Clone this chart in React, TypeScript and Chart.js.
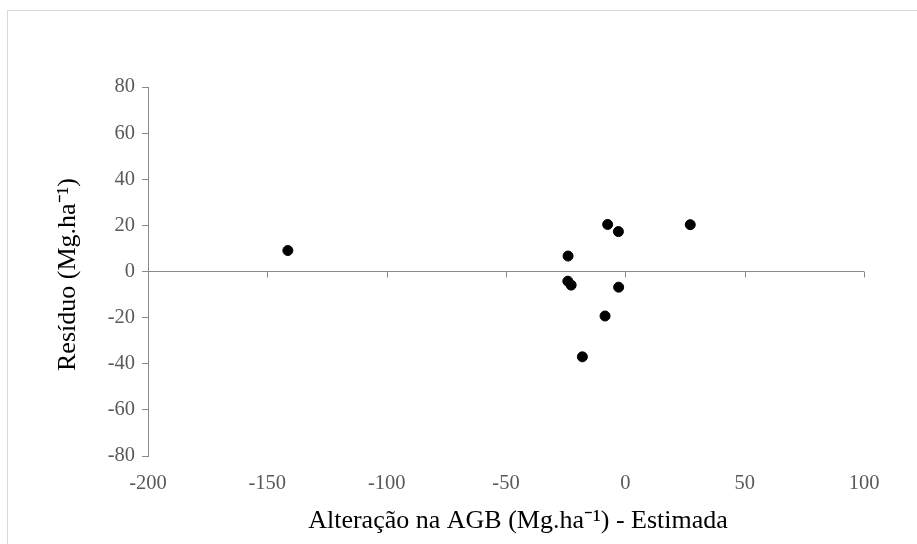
import React, { useEffect, useRef } from "react";
import { Chart, registerables } from "chart.js";

Chart.register(...registerables);

const xValues = [-141.4, -24.0, -24.1, -22.7, -18.0, -8.5, -7.4, -2.9, -2.8, 27.2];
const yValues = [9.1, 6.7, -4.2, -5.9, -37.0, -19.3, 20.4, 17.3, -6.8, 20.3];
const xTitle = "Alteração na AGB (Mg.ha\u207B\u00B9) - Estimada";
const yTitle = "Resíduo (Mg.ha\u207B\u00B9)";
const xMin = -200, xMax = 100, xStep = 50;
const yMin = -80, yMax = 80, yStep = 20;

const AXIS = "#898989";
const LABEL = "#595959";
const FONT = "'Liberation Serif', 'Times New Roman', serif";

const zeroTicks = {
  id: "zeroTicks",
  afterDatasetsDraw(chart: any) {
    const xs = chart.scales.x;
    const ys = chart.scales.y;
    const y0 = ys.getPixelForValue(0);
    const ctx = chart.ctx;
    ctx.save();
    ctx.strokeStyle = AXIS;
    ctx.lineWidth = 1;
    xs.ticks.forEach((t: any) => {
      const px = Math.round(xs.getPixelForValue(t.value)) + 0.5;
      ctx.beginPath();
      ctx.moveTo(px, y0);
      ctx.lineTo(px, y0 + 6);
      ctx.stroke();
    });
    ctx.restore();
  },
};

const axisTitles = {
  id: "axisTitles",
  afterDraw(chart: any) {
    const ca = chart.chartArea;
    const ctx = chart.ctx;
    ctx.save();
    ctx.fillStyle = "#000000";
    ctx.font = `26px ${FONT}`;
    ctx.textAlign = "center";
    ctx.textBaseline = "middle";
    ctx.fillText(xTitle, (ca.left + ca.right) / 2 + 12, chart.height - 23);
    ctx.translate(68, (ca.top + ca.bottom) / 2 + 3);
    ctx.rotate(-Math.PI / 2);
    ctx.fillText(yTitle, 0, 0);
    ctx.restore();
  },
};

export default function App() {
  const ref = useRef<HTMLCanvasElement>(null);
  useEffect(() => {
    document.body.style.margin = "0";
    document.body.style.overflow = "hidden";
    const data = xValues.map((x, i) => ({ x, y: yValues[i] }));
    const chart = new Chart(ref.current!, {
      type: "scatter",
      data: {
        datasets: [
          {
            data,
            backgroundColor: "#000000",
            borderColor: "#000000",
            pointRadius: 5,
            pointHoverRadius: 5,
          },
        ],
      },
      options: {
        responsive: false,
        animation: false,
        layout: { padding: { top: 87, right: 53, left: 0, bottom: 0 } },
        plugins: { legend: { display: false }, tooltip: { enabled: false } },
        scales: {
          x: {
            type: "linear",
            min: xMin,
            max: xMax,
            ticks: {
              stepSize: xStep,
              color: LABEL,
              font: { family: FONT, size: 20.5 },
              padding: 15,
              maxRotation: 0,
            },
            grid: { display: false, drawTicks: false },
            border: { display: false },
            title: { display: false },
            afterFit(scale: any) {
              scale.height = 88;
            },
          },
          y: {
            type: "linear",
            min: yMin,
            max: yMax,
            ticks: {
              stepSize: yStep,
              color: LABEL,
              font: { family: FONT, size: 20.5 },
              padding: 7,
            },
            grid: {
              color: (c: any) => (c.tick && c.tick.value === 0 ? AXIS : "rgba(0,0,0,0)"),
              tickColor: AXIS,
              tickLength: 6,
              lineWidth: 1,
            },
            border: { display: true, color: AXIS, width: 1 },
            title: { display: false },
            afterFit(scale: any) {
              scale.width = 148;
            },
          },
        },
      },
      plugins: [zeroTicks, axisTitles],
    });
    return () => chart.destroy();
  }, []);

  return (
    <div style={{ position: "relative", width: 917, height: 544, overflow: "hidden" }}>
      <div
        style={{
          position: "absolute",
          left: 7,
          top: 10,
          width: 940,
          height: 560,
          borderLeft: "1px solid #d9d9d9",
          borderTop: "1px solid #d9d9d9",
        }}
      />
      <canvas
        ref={ref}
        width={917}
        height={544}
        style={{ position: "absolute", left: 0, top: 0 }}
      />
    </div>
  );
}
